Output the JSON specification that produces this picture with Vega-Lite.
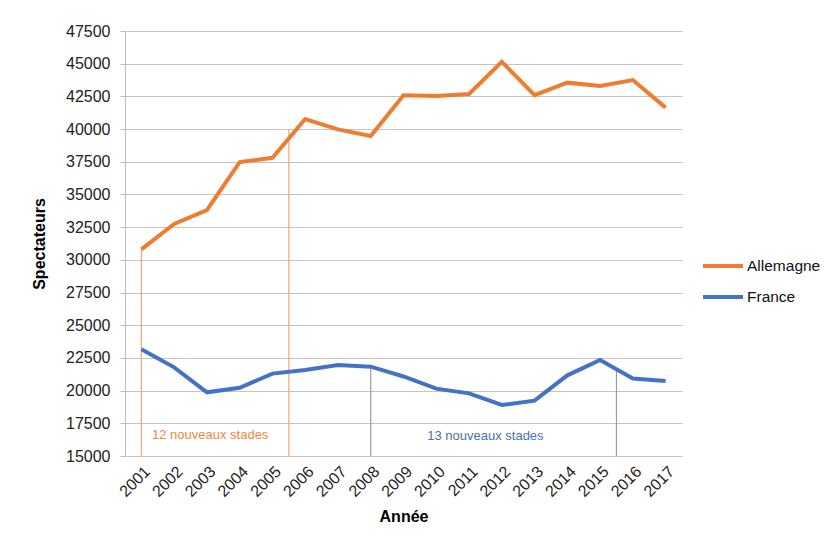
{
  "$schema": "https://vega.github.io/schema/vega-lite/v6.json",
  "width": 557,
  "height": 425,
  "autosize": {"type": "none"},
  "padding": {"left": 125, "top": 31, "right": 147, "bottom": 92},
  "background": "white",
  "config": {
    "font": "Liberation Sans",
    "view": {"stroke": null}
  },
  "datasets": {
    "series": [
      {"Année": 2001, "Pays": "Allemagne", "Spectateurs": 30800},
      {"Année": 2002, "Pays": "Allemagne", "Spectateurs": 32740},
      {"Année": 2003, "Pays": "Allemagne", "Spectateurs": 33800},
      {"Année": 2004, "Pays": "Allemagne", "Spectateurs": 37480},
      {"Année": 2005, "Pays": "Allemagne", "Spectateurs": 37800},
      {"Année": 2006, "Pays": "Allemagne", "Spectateurs": 40770},
      {"Année": 2007, "Pays": "Allemagne", "Spectateurs": 39980},
      {"Année": 2008, "Pays": "Allemagne", "Spectateurs": 39470},
      {"Année": 2009, "Pays": "Allemagne", "Spectateurs": 42580},
      {"Année": 2010, "Pays": "Allemagne", "Spectateurs": 42530},
      {"Année": 2011, "Pays": "Allemagne", "Spectateurs": 42680},
      {"Année": 2012, "Pays": "Allemagne", "Spectateurs": 45150},
      {"Année": 2013, "Pays": "Allemagne", "Spectateurs": 42600},
      {"Année": 2014, "Pays": "Allemagne", "Spectateurs": 43550},
      {"Année": 2015, "Pays": "Allemagne", "Spectateurs": 43290},
      {"Année": 2016, "Pays": "Allemagne", "Spectateurs": 43750},
      {"Année": 2017, "Pays": "Allemagne", "Spectateurs": 41640},
      {"Année": 2001, "Pays": "France", "Spectateurs": 23160},
      {"Année": 2002, "Pays": "France", "Spectateurs": 21780},
      {"Année": 2003, "Pays": "France", "Spectateurs": 19870},
      {"Année": 2004, "Pays": "France", "Spectateurs": 20220},
      {"Année": 2005, "Pays": "France", "Spectateurs": 21300},
      {"Année": 2006, "Pays": "France", "Spectateurs": 21580},
      {"Année": 2007, "Pays": "France", "Spectateurs": 21960},
      {"Année": 2008, "Pays": "France", "Spectateurs": 21830},
      {"Année": 2009, "Pays": "France", "Spectateurs": 21080},
      {"Année": 2010, "Pays": "France", "Spectateurs": 20150},
      {"Année": 2011, "Pays": "France", "Spectateurs": 19790},
      {"Année": 2012, "Pays": "France", "Spectateurs": 18900},
      {"Année": 2013, "Pays": "France", "Spectateurs": 19230},
      {"Année": 2014, "Pays": "France", "Spectateurs": 21170},
      {"Année": 2015, "Pays": "France", "Spectateurs": 22340},
      {"Année": 2016, "Pays": "France", "Spectateurs": 20920},
      {"Année": 2017, "Pays": "France", "Spectateurs": 20740}
    ],
    "rulesDE": [
      {"Année": 2001, "Spectateurs": 15000, "haut": 30800},
      {"Année": 2005.5, "Spectateurs": 15000, "haut": 40000}
    ],
    "rulesFR": [
      {"Année": 2008, "Spectateurs": 15000, "haut": 21830},
      {"Année": 2015.5, "Spectateurs": 15000, "haut": 21600}
    ],
    "notes": [
      {"Année": 2003.1, "Spectateurs": 16600, "texte": "12 nouveaux stades", "groupe": "DE"},
      {"Année": 2011.5, "Spectateurs": 16500, "texte": "13 nouveaux stades", "groupe": "FR"}
    ]
  },
  "encoding": {
    "x": {
      "field": "Année",
      "type": "quantitative",
      "scale": {"domain": [2000.5, 2017.5], "nice": false, "zero": false},
      "axis": {
        "values": [2001, 2002, 2003, 2004, 2005, 2006, 2007, 2008, 2009, 2010, 2011, 2012, 2013, 2014, 2015, 2016, 2017],
        "format": "d",
        "labelAngle": -45,
        "labelFontSize": 16,
        "labelColor": "#222222",
        "labelPadding": 7,
        "labelOverlap": false,
        "labelFlush": false,
        "ticks": false,
        "grid": false,
        "domain": false,
        "title": "Année",
        "titleFontSize": 16,
        "titleFontWeight": "bold",
        "titleColor": "#000000",
        "titlePadding": 9
      }
    },
    "y": {
      "field": "Spectateurs",
      "type": "quantitative",
      "scale": {"domain": [15000, 47500], "nice": false, "zero": false},
      "axis": {
        "values": [15000, 17500, 20000, 22500, 25000, 27500, 30000, 32500, 35000, 37500, 40000, 42500, 45000, 47500],
        "format": "d",
        "labelFontSize": 16,
        "labelColor": "#222222",
        "labelPadding": 10,
        "labelOverlap": false,
        "labelFlush": false,
        "tickSize": 5,
        "tickColor": "#bdbdbd",
        "domainColor": "#bdbdbd",
        "gridColor": "#c4c4c4",
        "grid": true,
        "title": "Spectateurs",
        "titleFontSize": 16,
        "titleFontWeight": "bold",
        "titleColor": "#000000",
        "titlePadding": 18
      }
    }
  },
  "layer": [
    {
      "data": {"name": "rulesDE"},
      "mark": {"type": "rule", "color": "#F5A673", "strokeWidth": 1.2},
      "encoding": {
        "y2": {"field": "haut"}
      }
    },
    {
      "data": {"name": "rulesFR"},
      "mark": {"type": "rule", "color": "#8E9EB8", "strokeWidth": 1.2},
      "encoding": {
        "y2": {"field": "haut"}
      }
    },
    {
      "data": {"name": "notes"},
      "mark": {"type": "text", "fontSize": 13, "font": "Liberation Sans"},
      "encoding": {
        "text": {"field": "texte"},
        "color": {
          "field": "groupe",
          "type": "nominal",
          "scale": {"domain": ["DE", "FR"], "range": ["#F0873F", "#4D70A8"]},
          "legend": null
        }
      }
    },
    {
      "data": {"name": "series"},
      "mark": {"type": "line", "strokeWidth": 4, "strokeJoin": "miter"},
      "encoding": {
        "color": {
          "field": "Pays",
          "type": "nominal",
          "scale": {"domain": ["Allemagne", "France"], "range": ["#ED7D31", "#4472C4"]},
          "legend": {
            "title": null,
            "orient": "none",
            "legendX": 576,
            "legendY": 213,
            "symbolType": "stroke",
            "symbolStrokeWidth": 4,
            "symbolSize": 1600,
            "labelFontSize": 15.5,
            "labelColor": "#111111",
            "labelOffset": 2,
            "rowPadding": -10
          }
        }
      }
    }
  ],
  "resolve": {"scale": {"color": "independent"}}
}
